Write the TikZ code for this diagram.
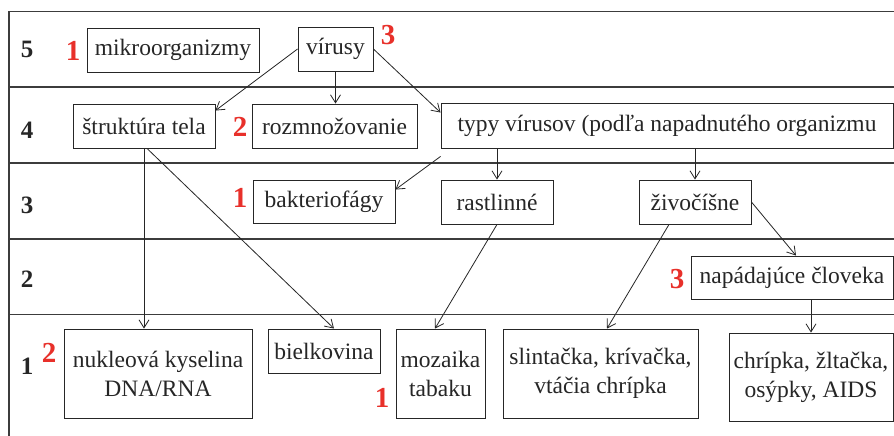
\documentclass[tikz,border=0pt]{standalone}
\usepackage{fontspec}
\setmainfont{Liberation Serif}
\usetikzlibrary{arrows.meta}
\definecolor{numred}{RGB}{232,48,42}
\definecolor{gridc}{RGB}{60,60,60}
\begin{document}
\begin{tikzpicture}[x=1pt,y=-1pt,
  box/.style={draw=black!85,line width=0.9pt,inner sep=0pt,align=center,
    font=\fontsize{23.5}{29}\selectfont,text=black!85},
  rownum/.style={font=\fontsize{25}{25}\selectfont\bfseries,text=black!85},
  rednum/.style={font=\fontsize{29}{29}\selectfont\bfseries,text=numred},
  arr/.style={draw=black!85,line width=0.8pt,-{Straight Barb[length=8pt,width=10pt,line width=0.8pt]}},
  grid/.style={draw=gridc,line width=1.2pt}]
\useasboundingbox (0,0) rectangle (894,436);
\fill[white] (0,0) rectangle (894,436);
% table
\draw[grid] (9,11.5) -- (894,11.5);
\draw[grid] (9,87) -- (894,87);
\draw[grid] (9,163) -- (894,163);
\draw[grid] (9,239) -- (894,239);
\draw[grid] (9,314.5) -- (894,314.5);
\draw[grid] (9,11.5) -- (9,436);
% row numbers
\node[rownum] (r5) at (27,49) {5};
\node[rownum] (r4) at (27,130) {4};
\node[rownum] (r3) at (27,205) {3};
\node[rownum] (r2) at (27,279) {2};
\node[rownum] (r1) at (27,366) {1};
% boxes
\node[box,minimum width=172,minimum height=44] (mikro) at (173,50) {mikroorganizmy};
\node[box,minimum width=75,minimum height=44] (virusy) at (335.5,49) {vírusy};
\node[box,minimum width=142,minimum height=44] (strukt) at (144,126) {štruktúra tela};
\node[box,minimum width=165,minimum height=44] (rozmn) at (334.5,126) {rozmnožovanie};
\node[box,minimum width=452,minimum height=45] (typy) at (667,125.5) {typy vírusov (podľa napadnutého organizmu};
\node[box,minimum width=142,minimum height=43] (bakt) at (324,201.5) {bakteriofágy};
\node[box,minimum width=112,minimum height=44] (rastl) at (497,202) {rastlinné};
\node[box,minimum width=112,minimum height=44] (zivoc) at (695,202) {živočíšne};
\node[box,minimum width=202,minimum height=43] (napad) at (792,277.5) {napádajúce človeka};
\node[box,minimum width=188,minimum height=89] (nukl) at (158,373.5) {nukleová kyselina\\DNA/RNA};
\node[box,minimum width=112,minimum height=44] (bielk) at (324,351) {bielkovina};
\node[box,minimum width=89,minimum height=89] (moz) at (440.5,373.5) {mozaika\\tabaku};
\node[box,minimum width=195,minimum height=89] (slint) at (600.5,373.5) {slintačka, krívačka,\\vtáčia chrípka};
\node[box,minimum width=164,minimum height=88] (chrip) at (811,377) {chrípka, žltačka,\\osýpky, AIDS};
% red numbers
\node[rednum] (n1) at (73,51) {1};
\node[rednum] (n2) at (388,35) {3};
\node[rednum] (n3) at (240,127) {2};
\node[rednum] (n4) at (240,198) {1};
\node[rednum] (n5) at (677,279) {3};
\node[rednum] (n6) at (49,353) {2};
\node[rednum] (n7) at (382,398) {1};
% arrows
\draw[arr] (virusy.west) -- ([yshift=-7]strukt.north east);
\draw[arr] (virusy.south) -- (virusy.south |- rozmn.north);
\draw[arr] (virusy.east) -- ([yshift=-10]typy.north west);
\draw[arr] ([yshift=-8]typy.south west) -- ([yshift=-10]bakt.north east);
\draw[arr] (rastl.north |- typy.south) -- (rastl.north);
\draw[arr] (zivoc.north |- typy.south) -- (zivoc.north);
\draw[arr] (strukt.south) -- (strukt.south |- nukl.north);
\draw[arr] ([xshift=3]strukt.south) -- ([xshift=10]bielk.north);
\draw[arr] (rastl.south) -- ([xshift=-5.5]moz.north);
\draw[arr] ([xshift=-26]zivoc.south) -- ([xshift=6.5]slint.north);
\draw[arr] (zivoc.east) -- ([xshift=4]napad.north);
\draw[arr] (chrip.north |- napad.south) -- (chrip.north);
\end{tikzpicture}
\end{document}
